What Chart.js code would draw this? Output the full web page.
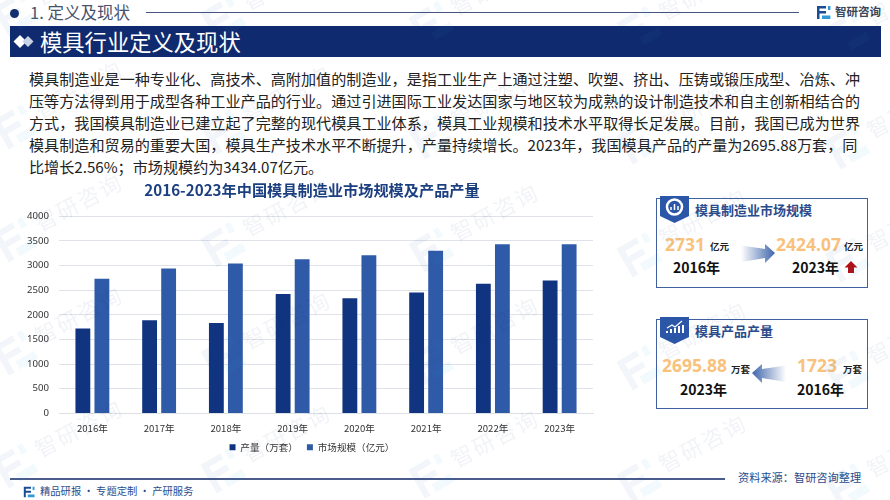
<!DOCTYPE html>
<html lang="zh">
<head>
<meta charset="utf-8">
<script src="https://cdn.jsdelivr.net/npm/chart.js@4"></script>
<style>
html,body{margin:0;padding:0;background:#fff}
#page{position:relative;width:890px;height:500px;overflow:hidden;background:#fff;font-family:"Noto Sans CJK SC","Noto Sans",sans-serif}
#page>*{position:absolute}
.t{white-space:nowrap;line-height:1}
.num{font-weight:700;color:#f8c27c;font-size:17.500px;font-family:"Noto Sans","Noto Sans CJK SC",sans-serif}
.unit{font-weight:700;color:#222;font-size:9.500px}
.yr{font-weight:700;color:#111;font-size:14px}
.ct{font-weight:700;color:#2b4c8c;font-size:13px}
.card{border:1.500px solid #41609f;box-sizing:border-box;background:#fff}
#body div{white-space:nowrap;height:22px;line-height:22px}
#wm{left:0;top:0;width:890px;height:500px;pointer-events:none;z-index:5}
</style>
</head>
<body>
<div id="page">
  <div style="left:10px;top:9px;width:9px;height:9px;border-radius:50%;background:#14306f"></div>
  <div class="t" style="left:30px;top:4px;font-size:16.500px;color:#47536e">1. 定义及现状</div>
  <div style="left:146px;top:12px;width:653px;height:1px;background:#46557f"></div>
  <svg style="left:816px;top:5px" width="15" height="15" viewBox="0 0 15 15"><path d="M1 1h9v2.400H3.500V6H10v2.400H3.500V14H1z" fill="#1d4c96"/><path d="M12 1h2.400v4H12zM6 10.500h8.400V14H6z" fill="#2f9ad6"/></svg>
  <div class="t" style="left:835px;top:6px;font-size:11.500px;font-weight:700;color:#3a4658">智研咨询</div>

  <div style="left:10px;top:26px;width:871px;height:31px;background:#0f2a6e"></div>
  <svg style="left:13px;top:34px" width="22" height="15" viewBox="0 0 22 15"><path d="M7 1l6.500 6.500L7 14 .5 7.500z" fill="#fff"/><path d="M15 2l5.500 5.500L15 13 9.500 7.500z" fill="#c9d3e6"/></svg>
  <div class="t" style="left:40px;top:30px;font-size:22.300px;color:#fff">模具行业定义及现状</div>

  <div id="body" style="left:29px;top:67px;font-size:15.120px;color:#222">
    <div>模具制造业是一种专业化、高技术、高附加值的制造业，是指工业生产上通过注塑、吹塑、挤出、压铸或锻压成型、冶炼、冲</div>
    <div>压等方法得到用于成型各种工业产品的行业。通过引进国际工业发达国家与地区较为成熟的设计制造技术和自主创新相结合的</div>
    <div>方式，我国模具制造业已建立起了完整的现代模具工业体系，模具工业规模和技术水平取得长足发展。目前，我国已成为世界</div>
    <div>模具制造和贸易的重要大国，模具生产技术水平不断提升，产量持续增长。2023年，我国模具产品的产量为2695.88万套，同</div>
    <div>比增长2.56%；市场规模约为3434.07亿元。</div>
  </div>

  <canvas id="c" width="624" height="290" style="left:0;top:178px;width:624px;height:290px"></canvas>

  <div class="card" style="left:656px;top:198px;width:212px;height:90px"></div>
  <svg style="left:660px;top:196px" width="30" height="27" viewBox="0 0 30 27"><path d="M0 0h29v20L14.500 27 0 20z" fill="#2c57a8"/><circle cx="14.500" cy="11" r="7.500" fill="none" stroke="#fff" stroke-width="2.500"/><path d="M11 14v-3M14.500 14V8M18 14v-4" stroke="#fff" stroke-width="1.500"/></svg>
  <div class="t ct" style="left:695px;top:203px">模具制造业市场规模</div>
  <div class="t num" style="left:665px;top:236px">2731</div>
  <div class="t unit" style="left:710px;top:242px">亿元</div>
  <div class="t yr" style="left:673px;top:260px">2016年</div>
  <svg style="left:741px;top:243px" width="35" height="22" viewBox="0 0 35 22"><defs><linearGradient id="g1" x1="0" x2="1"><stop offset="0" stop-color="#3f66ab" stop-opacity="0"/><stop offset="1" stop-color="#3f66ab"/></linearGradient></defs><path d="M0 2.500L24 6V1l10 9-10 10v-5L0 19z" fill="url(#g1)"/></svg>
  <div class="t num" style="left:776px;top:236px">2424.07</div>
  <div class="t unit" style="left:844px;top:242px">亿元</div>
  <div class="t yr" style="left:792px;top:260px">2023年</div>
  <svg style="left:844px;top:260px" width="14" height="14" viewBox="0 0 14 14"><path d="M7 1l6.500 6.500H10V13H4V7.500H.5z" fill="#b10f14"/></svg>

  <div class="card" style="left:656px;top:319px;width:212px;height:90px"></div>
  <svg style="left:660px;top:317px" width="30" height="27" viewBox="0 0 30 27"><path d="M0 0h29v20L14.500 27 0 20z" fill="#2c57a8"/><path d="M7 16v-2M11 16v-4M15 16v-5M19 16v-7M23 16V8" stroke="#fff" stroke-width="2"/><path d="M7 11l5-3 3 2 7-6" stroke="#fff" stroke-width="1.200" fill="none"/></svg>
  <div class="t ct" style="left:695px;top:324px">模具产品产量</div>
  <div class="t num" style="left:662px;top:357px">2695.88</div>
  <div class="t unit" style="left:731px;top:365px">万套</div>
  <svg style="left:752px;top:363px" width="34" height="22" viewBox="0 0 34 22"><defs><linearGradient id="g2" x1="1" x2="0"><stop offset="0" stop-color="#3f66ab" stop-opacity="0"/><stop offset="1" stop-color="#3f66ab"/></linearGradient></defs><path d="M34 2.500L10 6V1L0 10l10 10v-5l24 4z" fill="url(#g2)"/></svg>
  <div class="t num" style="left:797px;top:357px">1723</div>
  <div class="t unit" style="left:843px;top:365px">万套</div>
  <div class="t yr" style="left:680px;top:382px">2023年</div>
  <div class="t yr" style="left:797px;top:382px">2016年</div>

  <div style="left:10px;top:478px;width:715px;height:1.500px;background:#4a5b8c"></div>
  <div class="t" style="left:738px;top:472px;font-size:11.200px;color:#2b4c8c">资料来源：智研咨询整理</div>
  <svg style="left:23px;top:486px" width="12" height="12" viewBox="0 0 15 15"><path d="M1 1h9v2.400H3.500V6H10v2.400H3.500V14H1z" fill="#1d4c96"/><path d="M12 1h2.400v4H12zM6 10.500h8.400V14H6z" fill="#2f9ad6"/></svg>
  <div class="t" style="left:40px;top:486px;font-size:10.300px;color:#2b4c8c">精品研报 · 专题定制 · 产研服务</div>

  <div id="wm"></div>
</div>
<script>
const categories = ['2016年','2017年','2018年','2019年','2020年','2021年','2022年','2023年'];
const outputValues = [1723,1890,1835,2422,2335,2455,2630,2695.88];
const marketValues = [2731,2940,3040,3128,3210,3298,3430,3434.07];
const yTicks = [0,500,1000,1500,2000,2500,3000,3500,4000];
const seriesNames = ['产量（万套）','市场规模（亿元）'];
const chartTitle = '2016-2023年中国模具制造业市场规模及产品产量';
const cjk = '"Noto Sans CJK SC","Noto Sans",sans-serif';

new Chart(document.getElementById('c'), {
  type: 'bar',
  data: {
    labels: categories,
    datasets: [
      {label: seriesNames[0], data: outputValues, backgroundColor: '#10347f'},
      {label: seriesNames[1], data: marketValues, backgroundColor: '#2f5aa8'}
    ]
  },
  options: {
    responsive: false,
    animation: false,
    devicePixelRatio: 1,
    categoryPercentage: 0.57,
    barPercentage: 0.78,
    layout: {padding: {left: 0, right: 0, top: 3, bottom: 6}},
    plugins: {
      tooltip: {enabled: false},
      title: {display: true, text: chartTitle, color: '#1c3f80',
        font: {family: cjk, size: 15.2, weight: 'bold'}, padding: {top: 0, bottom: 17}},
      legend: {position: 'bottom',
        labels: {usePointStyle: true, pointStyle: 'rect', boxWidth: 6, boxHeight: 6, color: '#333',
          font: {family: cjk, size: 9.6}, padding: 9}}
    },
    scales: {
      x: {grid: {display: false, drawTicks: false},
        afterFit(s) { s.height = 20; },
        border: {color: '#dcdfe6', width: 1},
        ticks: {color: '#333', font: {family: cjk, size: 9.6}, padding: 9, maxRotation: 0}},
      y: {min: 0, max: 4000,
        afterFit(s) { s.width = 59; },
        afterBuildTicks(s) { s.ticks = yTicks.map(v => ({value: v})); },
        grid: {color: '#dfe2e9', drawTicks: false},
        border: {display: false},
        ticks: {color: '#333', font: {family: '"Noto Sans",sans-serif', size: 9.6}, padding: 10,
          callback: v => String(v)}},
      // empty right-hand axis: keeps title and legend centred on the wider box, as in the reference
      spacer: {position: 'right', min: 0, max: 1,
        afterFit(s) { s.width = 31; },
        grid: {display: false, drawTicks: false},
        border: {display: false},
        ticks: {display: false}}
    }
  }
});

// faint repeated background mark
const wm = document.getElementById('wm');
const markColumns = [0,1,2,3,4];
const markRows = [0,1,2,3,4];
markColumns.forEach(c => markRows.forEach(r => {
  const x = 15 + c * 208, y = 14 + r * 113 + c * 5;
  wm.insertAdjacentHTML('beforeend',
    `<svg style="position:absolute;left:${x-19}px;top:${y-19}px;opacity:.055;transform:rotate(-30deg)" width="38" height="38" viewBox="0 0 15 15"><path d="M1 1h9v2.400H3.500V6H10v2.400H3.500V14H1z" fill="#1d4c96"/><path d="M12 1h2.400v4H12zM6 10.500h8.400V14H6z" fill="#2f9ad6"/></svg>` +
    `<div style="position:absolute;left:${x+63}px;top:${y-39}px;font-size:22px;letter-spacing:2px;line-height:1;color:#1d3c78;opacity:.06;white-space:nowrap;transform:translate(-50%,-50%) rotate(-28deg)">智研咨询</div>`);
}));
</script>
</body>
</html>
